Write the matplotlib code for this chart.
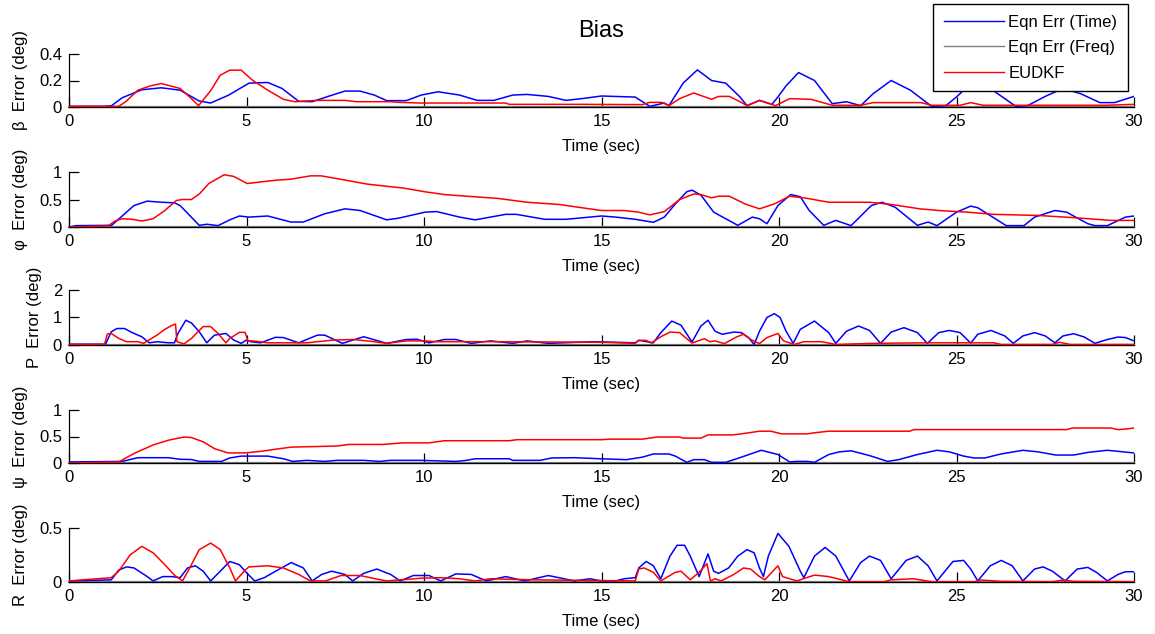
import matplotlib
matplotlib.use("Agg")
import matplotlib.pyplot as plt

plt.rcParams['font.family'] = ['Liberation Sans', 'DejaVu Sans']

# ---- beta error ----
t_beta_time = [0, 1.0, 1.2, 1.5, 2.05, 2.6, 3.13, 3.67, 3.99, 4.5, 5.07, 5.6, 6.0, 6.47, 6.85, 7.3, 7.77, 8.2, 8.6, 8.95, 9.5, 9.92, 10.4, 11.0, 11.5, 11.97, 12.5, 12.9, 13.5, 14.0, 14.5, 15.0, 15.95, 16.36, 16.77, 16.9, 17.3, 17.7, 18.1, 18.5, 18.9, 19.1, 19.45, 19.8, 19.97, 20.2, 20.55, 21.0, 21.5, 21.9, 22.3, 22.65, 23.16, 23.7, 24.3, 24.7, 25.0, 25.5, 25.95, 26.67, 27.0, 27.5, 28.0, 28.5, 29.04, 29.45, 30.0]
beta_time = [0.005, 0.005, 0.01, 0.07, 0.13, 0.145, 0.127, 0.045, 0.03, 0.09, 0.18, 0.185, 0.14, 0.043, 0.04, 0.08, 0.12, 0.12, 0.09, 0.048, 0.048, 0.09, 0.115, 0.09, 0.05, 0.05, 0.09, 0.095, 0.08, 0.05, 0.065, 0.083, 0.075, 0.005, 0.03, 0.01, 0.18, 0.28, 0.2, 0.18, 0.076, 0.01, 0.05, 0.02, 0.076, 0.16, 0.26, 0.2, 0.025, 0.04, 0.01, 0.1, 0.2, 0.127, 0.005, 0.01, 0.076, 0.2, 0.14, 0.005, 0.01, 0.08, 0.14, 0.1, 0.033, 0.033, 0.08]
t_beta_kf = [0, 1.4, 1.6, 1.94, 2.3, 2.6, 3.13, 3.45, 3.65, 4.0, 4.26, 4.53, 4.85, 5.18, 5.6, 6.04, 6.36, 7.0, 7.77, 8.1, 9.06, 9.3, 9.9, 10.7, 11.0, 12.3, 12.4, 14.5, 16.15, 16.36, 16.7, 16.9, 17.2, 17.6, 18.1, 18.3, 18.6, 18.9, 19.1, 19.45, 19.9, 20.3, 20.9, 21.5, 22.3, 22.65, 24.0, 24.3, 25.1, 25.4, 25.75, 29.2, 30]
beta_kf = [0.005, 0.005, 0.04, 0.127, 0.16, 0.177, 0.14, 0.063, 0.01, 0.127, 0.24, 0.278, 0.278, 0.2, 0.127, 0.058, 0.04, 0.05, 0.05, 0.04, 0.04, 0.035, 0.03, 0.03, 0.03, 0.03, 0.02, 0.02, 0.018, 0.035, 0.035, 0.01, 0.063, 0.106, 0.058, 0.08, 0.08, 0.04, 0.01, 0.05, 0.01, 0.063, 0.058, 0.013, 0.013, 0.033, 0.033, 0.013, 0.013, 0.033, 0.013, 0.013, 0.02]

# ---- phi error ----
t_phi_time = [0, 0.2, 1.1, 1.2, 1.62, 1.83, 2.2, 2.6, 2.97, 3.13, 3.67, 3.88, 4.2, 4.53, 4.8, 5.07, 5.6, 6.25, 6.6, 7.2, 7.77, 8.2, 8.95, 9.28, 10.03, 10.36, 11.0, 11.44, 12.3, 12.6, 13.4, 14.0, 15.0, 15.4, 15.95, 16.46, 16.77, 17.08, 17.4, 17.55, 17.8, 18.16, 18.5, 18.84, 19.25, 19.45, 19.66, 19.97, 20.33, 20.6, 20.85, 21.26, 21.6, 22.03, 22.6, 22.9, 23.27, 23.9, 24.2, 24.45, 25.0, 25.4, 25.6, 26.4, 26.9, 27.2, 27.77, 28.1, 28.7, 28.9, 29.25, 29.76, 30]
phi_time = [0, 0.025, 0.03, 0.03, 0.27, 0.39, 0.47, 0.45, 0.44, 0.39, 0.03, 0.05, 0.025, 0.13, 0.2, 0.18, 0.2, 0.09, 0.09, 0.24, 0.33, 0.3, 0.13, 0.16, 0.27, 0.28, 0.18, 0.13, 0.23, 0.23, 0.14, 0.14, 0.2, 0.18, 0.14, 0.085, 0.18, 0.42, 0.64, 0.67, 0.58, 0.27, 0.15, 0.03, 0.18, 0.15, 0.06, 0.39, 0.59, 0.55, 0.3, 0.03, 0.12, 0.025, 0.39, 0.45, 0.36, 0.03, 0.09, 0.025, 0.27, 0.38, 0.35, 0.025, 0.025, 0.18, 0.3, 0.27, 0.06, 0.025, 0.025, 0.18, 0.2]
t_phi_kf = [0, 1.1, 1.3, 1.5, 1.78, 2.05, 2.37, 2.7, 3.02, 3.18, 3.45, 3.67, 3.94, 4.37, 4.64, 5.02, 5.4, 5.82, 6.26, 6.8, 7.1, 7.55, 8.4, 8.95, 9.4, 10.03, 10.57, 11.2, 12.08, 12.9, 13.8, 14.45, 15.0, 15.64, 16.05, 16.36, 16.77, 17.2, 17.6, 17.8, 18.1, 18.3, 18.6, 19.04, 19.45, 19.87, 20.3, 20.8, 21.4, 22.55, 23.16, 23.97, 24.5, 25.3, 26.05, 27.3, 28.3, 29.35, 30]
phi_kf = [0, 0.02, 0.11, 0.15, 0.14, 0.11, 0.15, 0.3, 0.48, 0.5, 0.5, 0.6, 0.79, 0.95, 0.92, 0.79, 0.82, 0.85, 0.87, 0.93, 0.93, 0.88, 0.78, 0.74, 0.71, 0.64, 0.59, 0.56, 0.52, 0.45, 0.41, 0.35, 0.3, 0.3, 0.27, 0.22, 0.28, 0.5, 0.6, 0.59, 0.53, 0.56, 0.56, 0.42, 0.33, 0.42, 0.56, 0.52, 0.45, 0.45, 0.41, 0.33, 0.3, 0.27, 0.23, 0.21, 0.17, 0.12, 0.12]

# ---- P error ----
t_p_time = [0, 1.03, 1.19, 1.35, 1.56, 1.78, 2.05, 2.26, 2.48, 2.8, 2.97, 3.07, 3.29, 3.45, 3.67, 3.88, 4.1, 4.42, 4.64, 4.85, 5.0, 5.12, 5.4, 5.82, 6.04, 6.47, 7.0, 7.2, 7.7, 8.3, 8.95, 9.5, 9.8, 10.14, 10.57, 10.9, 11.33, 11.87, 12.5, 12.9, 13.5, 14.78, 15.95, 16.05, 16.46, 16.67, 16.98, 17.24, 17.55, 17.8, 18.0, 18.2, 18.4, 18.73, 18.94, 19.14, 19.3, 19.45, 19.66, 19.87, 20.03, 20.2, 20.4, 20.6, 21.0, 21.4, 21.6, 21.9, 22.24, 22.55, 22.86, 23.16, 23.52, 23.9, 24.18, 24.5, 24.8, 25.1, 25.4, 25.6, 25.97, 26.36, 26.6, 26.87, 27.2, 27.5, 27.77, 28.0, 28.3, 28.6, 28.9, 29.25, 29.55, 29.76, 30]
p_time = [0.03, 0.03, 0.48, 0.6, 0.6, 0.45, 0.3, 0.08, 0.12, 0.08, 0.08, 0.42, 0.9, 0.8, 0.48, 0.08, 0.36, 0.42, 0.18, 0.06, 0.18, 0.12, 0.08, 0.28, 0.27, 0.08, 0.36, 0.36, 0.06, 0.3, 0.06, 0.2, 0.21, 0.08, 0.2, 0.2, 0.06, 0.15, 0.06, 0.15, 0.06, 0.12, 0.08, 0.17, 0.08, 0.45, 0.87, 0.72, 0.11, 0.69, 0.9, 0.5, 0.39, 0.47, 0.45, 0.27, 0.02, 0.5, 1.0, 1.14, 1.0, 0.5, 0.06, 0.57, 0.87, 0.45, 0.06, 0.5, 0.69, 0.53, 0.06, 0.47, 0.63, 0.45, 0.06, 0.45, 0.53, 0.45, 0.07, 0.39, 0.53, 0.33, 0.06, 0.33, 0.45, 0.33, 0.08, 0.33, 0.41, 0.29, 0.06, 0.2, 0.29, 0.27, 0.15]
t_p_kf = [0, 1.0, 1.08, 1.19, 1.4, 1.62, 1.94, 2.1, 2.48, 2.7, 2.91, 3.0, 3.04, 3.24, 3.45, 3.78, 3.99, 4.2, 4.42, 4.53, 4.8, 4.96, 5.04, 5.18, 5.6, 6.7, 7.45, 8.0, 8.6, 8.95, 9.5, 10.03, 10.36, 12.0, 14.97, 15.95, 16.05, 16.26, 16.4, 16.67, 16.93, 17.2, 17.55, 17.9, 18.05, 18.2, 18.46, 18.8, 19.0, 19.2, 19.45, 19.66, 19.97, 20.13, 20.43, 20.7, 21.2, 21.6, 22.65, 24.2, 26.05, 26.26, 27.7, 27.9, 28.2, 30]
p_kf = [0.02, 0.02, 0.4, 0.42, 0.24, 0.12, 0.12, 0.06, 0.36, 0.57, 0.72, 0.76, 0.12, 0.04, 0.24, 0.67, 0.67, 0.42, 0.08, 0.24, 0.46, 0.46, 0.15, 0.15, 0.08, 0.08, 0.18, 0.2, 0.12, 0.06, 0.15, 0.15, 0.12, 0.12, 0.1, 0.06, 0.17, 0.17, 0.07, 0.3, 0.47, 0.45, 0.07, 0.23, 0.12, 0.15, 0.05, 0.29, 0.39, 0.2, 0.05, 0.27, 0.42, 0.15, 0.02, 0.12, 0.12, 0.02, 0.06, 0.08, 0.08, 0.02, 0.02, 0.1, 0.02, 0.02]

# ---- psi error ----
t_psi_time = [0, 1.5, 1.94, 2.8, 3.13, 3.45, 3.67, 4.3, 4.53, 4.85, 5.6, 6.04, 6.3, 6.7, 7.2, 7.55, 8.3, 8.74, 9.06, 9.9, 10.9, 11.2, 11.44, 12.4, 12.5, 13.27, 13.6, 14.24, 14.97, 15.7, 16.15, 16.46, 16.9, 17.08, 17.4, 17.6, 17.9, 18.1, 18.5, 18.94, 19.5, 19.97, 20.3, 20.5, 20.8, 21.0, 21.4, 21.7, 22.03, 22.55, 23.06, 23.37, 23.9, 24.45, 24.8, 25.2, 25.5, 25.8, 26.25, 26.87, 27.3, 27.8, 28.3, 28.7, 29.25, 29.55, 30]
psi_time = [0.02, 0.03, 0.1, 0.1, 0.07, 0.065, 0.03, 0.03, 0.095, 0.13, 0.13, 0.08, 0.03, 0.05, 0.03, 0.05, 0.05, 0.03, 0.05, 0.05, 0.03, 0.05, 0.08, 0.08, 0.05, 0.05, 0.095, 0.1, 0.08, 0.063, 0.11, 0.17, 0.17, 0.13, 0.013, 0.063, 0.063, 0.013, 0.013, 0.11, 0.24, 0.16, 0.02, 0.03, 0.03, 0.013, 0.16, 0.21, 0.23, 0.14, 0.03, 0.063, 0.16, 0.24, 0.21, 0.13, 0.095, 0.095, 0.17, 0.24, 0.21, 0.15, 0.15, 0.2, 0.24, 0.22, 0.19]
t_psi_kf = [0, 1.4, 1.83, 2.37, 2.8, 3.24, 3.45, 3.78, 4.1, 4.48, 4.96, 5.4, 5.82, 6.26, 7.55, 7.88, 8.84, 9.4, 10.14, 10.57, 12.4, 12.62, 15.0, 15.23, 16.15, 16.57, 17.2, 17.3, 17.8, 18.0, 18.7, 18.94, 19.45, 19.77, 20.07, 20.8, 21.0, 21.4, 23.68, 23.8, 28.1, 28.27, 29.35, 29.55, 29.76, 30]
psi_kf = [0.0, 0.02, 0.18, 0.34, 0.43, 0.49, 0.48, 0.4, 0.27, 0.19, 0.19, 0.22, 0.26, 0.3, 0.32, 0.35, 0.35, 0.38, 0.38, 0.42, 0.42, 0.44, 0.44, 0.45, 0.45, 0.49, 0.49, 0.47, 0.47, 0.53, 0.53, 0.55, 0.6, 0.6, 0.55, 0.55, 0.57, 0.6, 0.6, 0.63, 0.63, 0.66, 0.66, 0.63, 0.64, 0.66]

# ---- R error ----
t_r_time = [0, 1.19, 1.4, 1.62, 1.83, 2.16, 2.37, 2.64, 2.9, 3.13, 3.34, 3.56, 3.78, 3.99, 4.26, 4.53, 4.8, 4.96, 5.23, 5.5, 5.82, 6.26, 6.6, 6.85, 7.12, 7.4, 7.77, 7.99, 8.3, 8.67, 9.06, 9.33, 9.7, 10.14, 10.47, 10.9, 11.33, 11.76, 12.3, 12.84, 13.5, 14.24, 14.67, 15.0, 15.4, 15.64, 15.95, 16.05, 16.26, 16.46, 16.67, 16.93, 17.13, 17.34, 17.5, 17.75, 18.0, 18.16, 18.3, 18.58, 18.84, 19.1, 19.3, 19.45, 19.56, 19.7, 19.97, 20.28, 20.6, 20.7, 21.0, 21.3, 21.6, 21.98, 22.3, 22.55, 22.86, 23.16, 23.58, 23.9, 24.2, 24.45, 24.9, 25.2, 25.4, 25.6, 25.95, 26.26, 26.57, 26.87, 27.2, 27.44, 27.7, 28.06, 28.4, 28.7, 28.94, 29.25, 29.55, 29.76, 30]
r_time = [0.01, 0.02, 0.11, 0.14, 0.13, 0.06, 0.01, 0.05, 0.05, 0.04, 0.13, 0.15, 0.1, 0.01, 0.1, 0.19, 0.16, 0.1, 0.01, 0.04, 0.1, 0.18, 0.13, 0.01, 0.07, 0.1, 0.07, 0.01, 0.08, 0.12, 0.07, 0.01, 0.06, 0.06, 0.01, 0.075, 0.07, 0.01, 0.05, 0.01, 0.06, 0.01, 0.03, 0.01, 0.01, 0.03, 0.04, 0.13, 0.19, 0.15, 0.03, 0.24, 0.34, 0.34, 0.24, 0.05, 0.26, 0.1, 0.08, 0.13, 0.24, 0.3, 0.27, 0.13, 0.05, 0.24, 0.45, 0.33, 0.1, 0.04, 0.24, 0.32, 0.24, 0.01, 0.18, 0.24, 0.2, 0.03, 0.2, 0.24, 0.15, 0.01, 0.19, 0.2, 0.12, 0.01, 0.15, 0.2, 0.15, 0.01, 0.12, 0.14, 0.1, 0.01, 0.12, 0.135, 0.09, 0.01, 0.07, 0.095, 0.095]
t_r_kf = [0, 1.19, 1.4, 1.72, 2.05, 2.37, 2.7, 2.98, 3.2, 3.4, 3.67, 3.99, 4.26, 4.53, 4.69, 4.96, 5.07, 5.6, 6.04, 6.47, 6.8, 7.23, 7.66, 8.2, 8.63, 8.95, 9.92, 10.47, 11.0, 11.44, 11.87, 13.1, 15.95, 16.05, 16.2, 16.46, 16.67, 17.08, 17.24, 17.5, 17.75, 17.97, 18.07, 18.2, 18.37, 18.73, 19.0, 19.2, 19.45, 19.6, 19.97, 20.1, 20.5, 21.0, 21.4, 21.98, 22.96, 23.16, 23.78, 24.3, 25.5, 25.7, 26.26, 27.7, 28.0, 28.3, 30]
r_kf = [0.01, 0.04, 0.1, 0.25, 0.33, 0.27, 0.16, 0.06, 0.01, 0.13, 0.3, 0.36, 0.3, 0.13, 0.01, 0.11, 0.14, 0.15, 0.13, 0.07, 0.01, 0.01, 0.06, 0.06, 0.03, 0.01, 0.035, 0.04, 0.03, 0.01, 0.03, 0.02, 0.01, 0.12, 0.13, 0.09, 0.01, 0.09, 0.1, 0.02, 0.09, 0.17, 0.01, 0.03, 0.01, 0.07, 0.13, 0.12, 0.05, 0.02, 0.15, 0.05, 0.01, 0.064, 0.05, 0.003, 0.003, 0.02, 0.03, 0.003, 0.003, 0.018, 0.006, 0.003, 0.018, 0.006, 0.003]

# frequency-domain equation error (zero over the run)
t_freq = [0, 30]
freq_err = [0, 0]

ylabels = ['\u03b2  Error (deg)', '\u03c6  Error (deg)', 'P  Error (deg)',
           '\u03c8  Error (deg)', 'R  Error (deg)']
ylims = [0.4, 1, 2, 1, 0.5]
yticks = [[0, 0.2, 0.4], [0, 0.5, 1], [0, 1, 2], [0, 0.5, 1], [0, 0.5]]
ytick_labels = [['0', '0.2', '0.4'], ['0', '0.5', '1'], ['0', '1', '2'],
                ['0', '0.5', '1'], ['0', '0.5']]
xticks = [0, 5, 10, 15, 20, 25, 30]

series = [
    (t_beta_time, beta_time, t_beta_kf, beta_kf),
    (t_phi_time, phi_time, t_phi_kf, phi_kf),
    (t_p_time, p_time, t_p_kf, p_kf),
    (t_psi_time, psi_time, t_psi_kf, psi_kf),
    (t_r_time, r_time, t_r_kf, r_kf),
]

W, H = 1155, 634
fig = plt.figure(figsize=(W / 100, H / 100), dpi=100)

# axes extents in pixels (top, bottom)
rows_px = [(54, 107), (172, 227), (290, 345), (410, 463), (528, 582)]
left_px, right_px = 69, 1134
FS = 12

handles = None
for i, ((tt, vt, tk, vk), (top, bot)) in enumerate(zip(series, rows_px)):
    ax = fig.add_axes([left_px / W, 1 - bot / H, (right_px - left_px) / W, (bot - top) / H])
    h1, = ax.plot(tt, vt, color='#0000ff', lw=1.1, label='Eqn Err (Time)', zorder=3)
    h2, = ax.plot(t_freq, freq_err, color='#808080', lw=1.6, label='Eqn Err (Freq)',
                  zorder=2, clip_on=False)
    h3, = ax.plot(tk, vk, color='#ff0000', lw=1.1, label='EUDKF', zorder=4)
    if handles is None:
        handles = [h1, h2, h3]
    ax.set_xlim(0, 30)
    ax.set_ylim(0, ylims[i])
    ax.set_xticks(xticks)
    ax.set_xticklabels([str(x) for x in xticks])
    ax.set_yticks(yticks[i])
    ax.set_yticklabels(ytick_labels[i])
    for s in ('top', 'right'):
        ax.spines[s].set_visible(False)
    ax.spines['left'].set_linewidth(0.9)
    ax.spines['bottom'].set_linewidth(0.9)
    ax.tick_params(direction='in', length=7, width=0.9, labelsize=FS)
    ax.tick_params(axis='x', pad=5)
    ax.tick_params(axis='y', pad=5)
    ax.set_xlabel('Time (sec)', fontsize=FS, labelpad=7)
    ax.set_ylabel(ylabels[i], fontsize=FS, labelpad=8)
    ax.patch.set_alpha(0)
    if i == 0:
        ax.set_title('Bias', fontsize=17, pad=12)

leg = fig.legend(handles=handles, loc='upper right',
                 bbox_to_anchor=(1128 / W, 1 - 4 / H), fontsize=FS,
                 fancybox=False, framealpha=1, edgecolor='black',
                 handlelength=3.6, handletextpad=0.25, borderpad=0.65,
                 labelspacing=0.62, borderaxespad=0)
leg.get_frame().set_linewidth(1.0)
for ln in leg.get_lines():
    ln.set_linewidth(1.0)

fig.savefig('out.png', dpi=100)
